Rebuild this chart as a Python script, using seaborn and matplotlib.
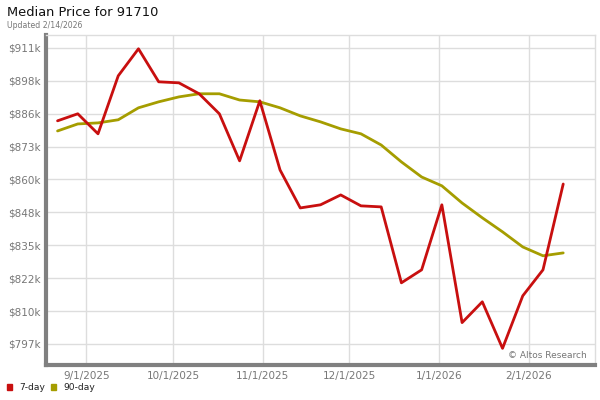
import matplotlib
matplotlib.use("Agg")
import matplotlib.pyplot as plt
import seaborn as sns
import pandas as pd

dates = pd.date_range("2025-08-22", periods=26, freq="7D")
price_7day = [882.8, 885.5, 877.8, 900.1, 910.5, 897.8, 897.4, 893.2, 885.5, 867.4,
              890.5, 863.9, 849.3, 850.5, 854.3, 850.1, 849.7, 820.5, 825.5, 850.5,
              805.2, 813.2, 795.3, 815.5, 825.5, 858.5]
price_90day = [878.9, 881.6, 882.0, 883.2, 887.8, 890.1, 892.0, 893.2, 893.2, 890.8,
               890.1, 887.8, 884.7, 882.4, 879.7, 877.8, 873.5, 867.0, 861.2, 857.8,
               851.2, 845.5, 840.1, 834.3, 830.9, 832.0]
series_names = ["7-day", "90-day"]
series_colors = ["#c80f0f", "#a59d00"]
ytick_values = [797 + 12.65 * i for i in range(10)]
ytick_labels = ["$797k", "$810k", "$822k", "$835k", "$848k", "$860k", "$873k", "$886k", "$898k", "$911k"]
xtick_dates = pd.to_datetime(["2025-09-01", "2025-10-01", "2025-11-01", "2025-12-01", "2026-01-01", "2026-02-01"])
xtick_labels = ["9/1/2025", "10/1/2025", "11/1/2025", "12/1/2025", "1/1/2026", "2/1/2026"]

df = pd.DataFrame({
    "date": list(dates) * 2,
    "price": price_7day + price_90day,
    "series": [series_names[0]] * 26 + [series_names[1]] * 26,
})

sns.set_theme(style="white")
plt.rcParams["font.family"] = ["DejaVu Sans"]

fig = plt.figure(figsize=(6, 4), dpi=100)
ax = fig.add_axes([46 / 600, 35 / 400, 549 / 600, 330 / 400])

sns.lineplot(data=df, x="date", y="price", hue="series", hue_order=series_names[::-1],
             palette=dict(zip(series_names, series_colors)), linewidth=2.0, ax=ax,
             legend=False)

ax.set_xlim(pd.Timestamp("2025-08-18"), pd.Timestamp("2026-02-24"))
ax.set_ylim(788.9, 915.8)
ax.set_yticks(ytick_values)
ax.set_yticklabels(ytick_labels)
ax.set_xticks(xtick_dates)
ax.set_xticklabels(xtick_labels)
ax.set_xlabel("")
ax.set_ylabel("")
ax.grid(True, color="#dddddd", linewidth=1)
ax.set_axisbelow(True)
ax.tick_params(axis="both", length=0, labelsize=7.5, colors="#777777", pad=4)

for s in ["top", "right"]:
    ax.spines[s].set_color("#dddddd")
    ax.spines[s].set_linewidth(1)
ax.spines["left"].set_color("#808080")
ax.spines["left"].set_linewidth(3)
ax.spines["bottom"].set_color("#808080")
ax.spines["bottom"].set_linewidth(3)

fig.text(7 / 600, 1 - 12 / 400, "Median Price for 91710", fontsize=9.4, color="#111111", va="center")
fig.text(7 / 600, 1 - 25 / 400, "Updated 2/14/2026", fontsize=5.6, color="#777777", va="center")
ax.text(0.985, 0.03, "© Altos Research", transform=ax.transAxes, fontsize=6.5,
        color="#777777", ha="right", va="center")

# legend
for i, (name, col) in enumerate(zip(series_names, series_colors)):
    x0 = [7, 51][i]
    fig.patches.append(plt.Rectangle((x0 / 600, 1 - 390 / 400), 5 / 600, 6 / 400,
                                     transform=fig.transFigure, color=col))
    fig.text((x0 + 12) / 600, 1 - 387 / 400, name, fontsize=6.6, color="#222222", va="center")

fig.savefig("out.png", dpi=100)
